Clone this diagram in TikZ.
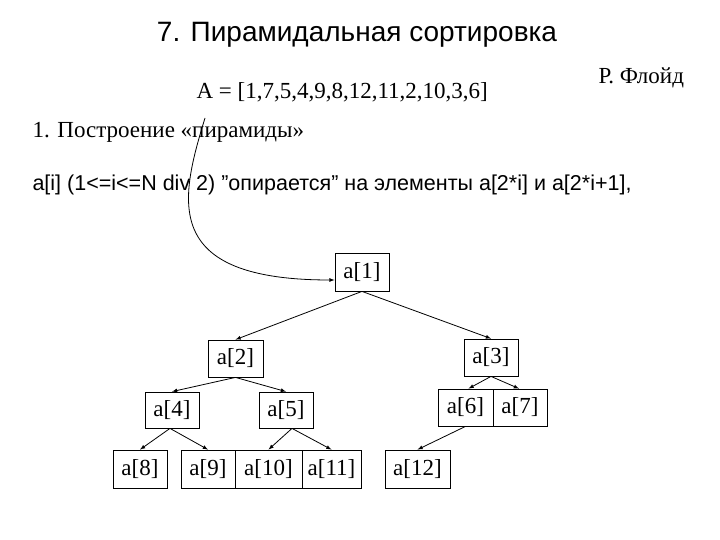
\documentclass[tikz,border=0pt]{standalone}
\usepackage{fontspec}
\setmainfont{Liberation Serif}
\setsansfont{Liberation Sans}
\begin{document}
\begin{tikzpicture}[x=1pt,y=-1pt,
  bx/.style={draw,thick,inner sep=0pt,font=\fontsize{23}{25}\selectfont},
  ar/.style={->,>=latex,thick}]
\useasboundingbox (0,0) rectangle (720,540);
\node[font=\sffamily\fontsize{28}{30}\selectfont] (title) at (357,35) {7. Пирамидальная сортировка};
\node[font=\fontsize{23}{25}\selectfont,anchor=west] (arr) at (193,92) {A = [1,7,5,4,9,8,12,11,2,10,3,6]};
\node[font=\fontsize{23}{25}\selectfont,anchor=west] (floyd) at (595,78) {Р. Флойд};
\node[font=\fontsize{23}{25}\selectfont,anchor=west] (step1) at (29,132) {1. Построение «пирамиды»};
\node[font=\sffamily\fontsize{21.5}{24}\selectfont,anchor=west] (rule) at (29,185) {a[i] (1<=i<=N div 2) \symbol{34}опирается\symbol{34} на элементы a[2*i] и a[2*i+1],};
\newcommand\bxat[6]{\node[bx,minimum width=#4-#2,minimum height=#5-#3] (#1) at ({(#2+#4)/2},{(#3+#5)/2}) {#6};}
\bxat{n1}{335}{253}{389}{291}{a[1]}
\bxat{n2}{208}{340}{263}{377}{a[2]}
\bxat{n3}{464}{339}{518}{376}{a[3]}
\bxat{n4}{145}{392}{199}{428}{a[4]}
\bxat{n5}{259}{392}{313}{428}{a[5]}
\bxat{n6}{438}{389}{493}{426}{a[6]}
\bxat{n7}{493}{389}{547}{426}{a[7]}
\bxat{n8}{113}{450}{167}{488}{a[8]}
\bxat{n9}{181}{450}{235}{488}{a[9]}
\bxat{n10}{235}{450}{302}{488}{a[10]}
\bxat{n11}{302}{450}{361}{488}{a[11]}
\bxat{n12}{385}{450}{450}{488}{a[12]}
\coordinate (cs) at (205,118);
\draw[ar] (cs) .. controls (180,200) and (160,280) .. (n1.west |- 0,280);
\draw[ar] (n1.south) -- (n2.north);
\draw[ar] (n1.south) -- (n3.north);
\draw[ar] (n2.south) -- (n4.north);
\draw[ar] (n2.south) -- (n5.north);
\draw[ar] (n3.south) -- ([xshift=3pt]n6.north);
\draw[ar] (n3.south) -- ([xshift=-1pt]n7.north);
\draw[ar] ([xshift=-2pt]n4.south) -- (n8.north);
\draw[ar] ([xshift=-2pt]n4.south) -- (n9.north);
\draw[ar] ([xshift=6pt]n5.south) -- (n10.north);
\draw[ar] ([xshift=6pt]n5.south) -- (n11.north);
\draw[ar] (n6.south) -- (n12.north);
\end{tikzpicture}
\end{document}
